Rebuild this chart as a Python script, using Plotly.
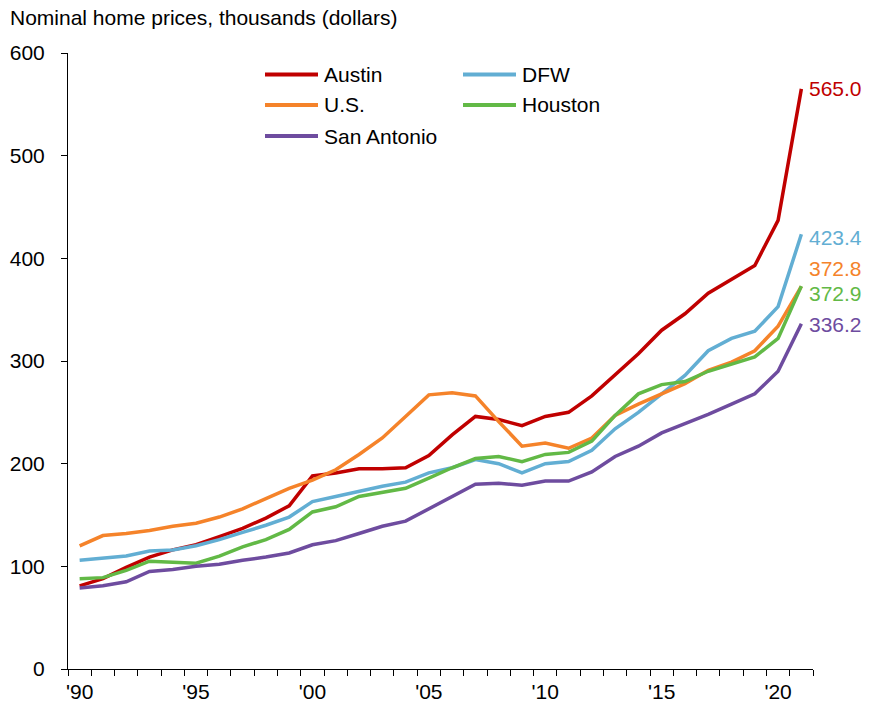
import plotly.graph_objects as go

years = list(range(1990, 2022))

austin = [81, 88, 99, 109, 116, 121, 129, 137, 147, 159, 188, 191, 195, 195, 196, 208,
          228, 246, 243, 237, 246, 250, 266, 287, 307, 330, 346, 366, 380, 393, 437, 565.0]
us = [120, 130, 132, 135, 139, 142, 148, 156, 166, 176, 184, 194, 209, 225, 246, 267,
      269, 266, 241, 217, 220, 215, 225, 247, 258, 268, 278, 291, 299, 310, 334, 372.8]
dfw = [106, 108, 110, 115, 116, 120, 126, 133, 140, 148, 163, 168, 173, 178, 182, 191,
       196, 204, 200, 191, 200, 202, 213, 234, 250, 268, 286, 310, 322, 329, 353, 423.4]
houston = [88, 89, 96, 105, 104, 103, 110, 119, 126, 136, 153, 158, 168, 172, 176, 186,
           196, 205, 207, 202, 209, 211, 222, 247, 268, 277, 280, 290, 297, 304, 322, 372.9]
san_antonio = [79, 81, 85, 95, 97, 100, 102, 106, 109, 113, 121, 125, 132, 139, 144, 156,
               168, 180, 181, 179, 183, 183, 192, 207, 217, 230, 239, 248, 258, 268, 290, 336.2]

series_names = ["Austin", "DFW", "U.S.", "Houston", "San Antonio"]
series_values = [austin, dfw, us, houston, san_antonio]
series_colors = ["#C00000", "#62AED3", "#F5832A", "#62B946", "#6E4C9F"]
label_yshift = [0, -3, 18, -7, -1]

tick_years = [1990, 1995, 2000, 2005, 2010, 2015, 2020]
tick_labels = ["'90", "'95", "'00", "'05", "'10", "'15", "'20"]

FONT = "Liberation Sans, Arial, sans-serif"
W, H = 873, 704
L, R, T, B = 68, 60, 53, 35
PW, PH = W - L - R, H - T - B

def px_x(p):
    return (p - L) / PW

def px_y(p):
    return (H - B - p) / PH

fig = go.Figure()
for name, vals, col, ys in zip(series_names, series_values, series_colors, label_yshift):
    fig.add_trace(go.Scatter(x=years, y=vals, mode="lines", name=name,
                             line=dict(color=col, width=3.5), showlegend=False))
    fig.add_annotation(x=years[-1], y=vals[-1], text=f"{vals[-1]:.1f}", showarrow=False,
                       xanchor="left", yanchor="middle", xshift=6, yshift=ys,
                       font=dict(family=FONT, size=21, color=col))

# custom legend (two columns)
legend_pos = {
    "Austin": (265, 74.5), "U.S.": (265, 105), "San Antonio": (265, 136),
    "DFW": (463, 74.5), "Houston": (463, 105),
}
for name, col in zip(series_names, series_colors):
    lx, ly = legend_pos[name]
    fig.add_shape(type="line", xref="paper", yref="paper",
                  x0=px_x(lx), x1=px_x(lx + 53), y0=px_y(ly), y1=px_y(ly),
                  line=dict(color=col, width=4))
    fig.add_annotation(xref="paper", yref="paper", x=px_x(lx + 57), y=px_y(ly),
                       text=name, showarrow=False, xanchor="left", yanchor="middle",
                       font=dict(family=FONT, size=21, color="black"))

fig.update_layout(
    width=W, height=H,
    margin=dict(l=L, r=R, t=T, b=B, autoexpand=False),
    paper_bgcolor="white", plot_bgcolor="white",
    font=dict(family=FONT, size=21, color="black"),
    title=dict(text="Nominal home prices, thousands (dollars)", xref="container",
               x=10 / W, xanchor="left", y=1 - 18 / H, yanchor="middle",
               font=dict(family=FONT, size=21, color="black")),
    showlegend=False,
)
fig.update_xaxes(
    range=[1989.5, 2021.5], tickmode="array", tickvals=tick_years, ticktext=tick_labels,
    ticks="", showline=True, linecolor="black", linewidth=1, showgrid=False,
    zeroline=False, ticklabelstandoff=4,
    minor=dict(tickmode="linear", tick0=1989.5, dtick=1, ticks="outside",
               ticklen=6, tickcolor="black", tickwidth=1, showgrid=False),
)
fig.update_yaxes(
    range=[0, 600], tickmode="linear", tick0=0, dtick=100, ticks="outside",
    ticklen=6, tickcolor="black", showline=True, linecolor="black", linewidth=1,
    showgrid=False, zeroline=False, ticklabelstandoff=12,
)

fig.write_html(
    "out.html",
    config={"displayModeBar": False},
    post_script="document.body.style.margin='0';document.body.style.padding='0';",
)
